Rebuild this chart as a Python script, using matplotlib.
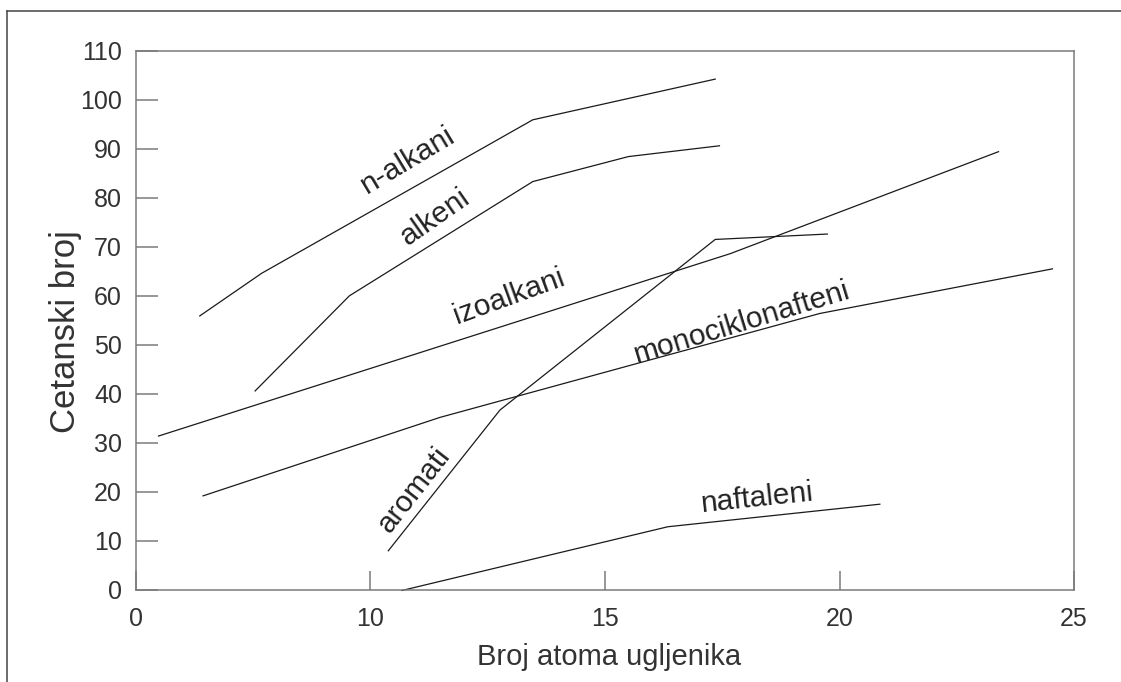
import matplotlib
matplotlib.use("Agg")
import matplotlib.pyplot as plt
from matplotlib.lines import Line2D

plt.rcParams['font.family'] = ['Liberation Sans', 'DejaVu Sans']

# podaci (ocitano sa slike)
x_nalkani = [6.36, 7.68, 13.46, 17.35]
y_nalkani = [55.9, 64.6, 95.9, 104.2]

x_alkeni = [7.54, 9.55, 13.46, 15.50, 17.44]
y_alkeni = [40.6, 60.0, 83.3, 88.4, 90.6]

x_izoalkani = [5.48, 17.67, 23.39]
y_izoalkani = [31.4, 68.6, 89.4]

x_monocik = [6.43, 11.48, 19.58, 24.54]
y_monocik = [19.2, 35.2, 56.4, 65.5]

x_aromati = [10.38, 12.76, 17.35, 19.74]
y_aromati = [8.0, 36.7, 71.5, 72.6]

x_naftaleni = [10.67, 16.34, 20.86]
y_naftaleni = [-0.1, 12.9, 17.5]

x_ticks = [5, 10, 15, 20, 25]
x_ticklabels = ["0", "10", "15", "20", "25"]
y_ticks = list(range(0, 111, 10))

series = [
    (x_nalkani, y_nalkani),
    (x_alkeni, y_alkeni),
    (x_izoalkani, y_izoalkani),
    (x_monocik, y_monocik),
    (x_aromati, y_aromati),
    (x_naftaleni, y_naftaleni),
]

# natpisi: tekst, polozaj (x, y), rotacija
labels = [
    ("n-alkani", 10.80, 87.7, 31),
    ("alkeni", 11.38, 76.1, 35),
    ("izoalkani", 12.95, 59.8, 20),
    ("monociklonafteni", 17.92, 54.5, 17),
    ("aromati", 10.93, 20.4, 52),
    ("naftaleni", 18.26, 18.8, 6),
]

fig = plt.figure(figsize=(11.21, 6.82), dpi=100)
ax = fig.add_axes([0.1213, 0.1349, 0.8368, 0.7908])

for xs, ys in series:
    ax.plot(xs, ys, color='#1a1a1a', lw=0.9, clip_on=False)

for txt, tx, ty, rot in labels:
    ax.text(tx, ty, txt, rotation=rot, ha='center', va='center',
            fontsize=21.5, color='#222222', rotation_mode='anchor')

ax.set_xlim(5, 25)
ax.set_ylim(0, 110)
ax.set_xticks(x_ticks)
ax.set_xticklabels(x_ticklabels)
ax.set_yticks(y_ticks)

for sp in ax.spines.values():
    sp.set_color('#7a7a7a')
    sp.set_linewidth(1.1)

ax.tick_params(axis='y', direction='in', length=15.5, width=1.1, color='#7a7a7a',
               labelsize=18, labelcolor='#333333', pad=10)
ax.tick_params(axis='x', direction='in', length=14, width=1.1, color='#7a7a7a',
               labelsize=18, labelcolor='#333333', pad=12)

ax.set_xlabel("Broj atoma ugljenika", fontsize=21, color='#333333')
ax.set_ylabel("Cetanski broj", fontsize=25, color='#333333')
ax.xaxis.set_label_coords(0.504, -0.098)
ax.yaxis.set_label_coords(-0.0576, 0.480)

# okvir slike (lijevo i gore)
fig.add_artist(Line2D([7 / 1121, 7 / 1121], [0, 1 - 11 / 682], color='#444444', lw=1.1))
fig.add_artist(Line2D([7 / 1121, 1], [1 - 11 / 682, 1 - 11 / 682], color='#444444', lw=1.1))

fig.savefig("out.png", dpi=100)
